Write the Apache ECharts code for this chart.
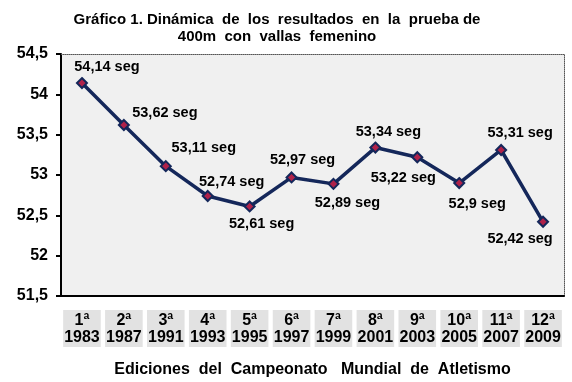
<!DOCTYPE html>
<html><head><meta charset="utf-8">
<script src="https://cdn.jsdelivr.net/npm/echarts@6/dist/echarts.min.js"></script>
<style>html,body{margin:0;padding:0;background:#fff}#c{width:572px;height:382px}</style>
</head><body><div id="c"></div>
<script>
const editions = ['1ª','2ª','3ª','4ª','5ª','6ª','7ª','8ª','9ª','10ª','11ª','12ª'];
const years = ['1983','1987','1991','1993','1995','1997','1999','2001','2003','2005','2007','2009'];
const times = [54.14, 53.62, 53.11, 52.74, 52.61, 52.97, 52.89, 53.34, 53.22, 52.90, 53.31, 52.42];
const timeLabels = ['54,14','53,62','53,11','52,74','52,61','52,97','52,89','53,34','53,22','52,9','53,31','52,42'];
const yTicks = [51.5, 52, 52.5, 53, 53.5, 54, 54.5];
const labelOffsets = [[25,-16],[41,-12],[38,-18],[24,-14],[12,18],[11,-17],[14,19],[13,-16],[-14,21],[18,21],[19,-17],[-23,17]];

const categories = editions.map((e,i)=>e+'\n'+years[i]);
const font = 'Liberation Sans, Arial, sans-serif';
const chart = echarts.init(document.getElementById('c'));
chart.setOption({
  animation:false,
  title:{text:'Gráfico 1. Dinámica  de  los  resultados  en  la  prueba de\n400m  con  vallas  femenino',
    left:272, textAlign:'center', top:6,
    textStyle:{fontFamily:font,fontWeight:'bold',fontSize:15,color:'#000',lineHeight:17}},
  grid:{left:61,right:8,top:54,bottom:86,show:true,backgroundColor:'#f0f0f0',borderWidth:0,
    containLabel:false,outerBoundsMode:'none'},
  xAxis:[{type:'category',data:categories,boundaryGap:true,
    name:'Ediciones  del  Campeonato   Mundial  de  Atletismo',nameLocation:'middle',nameGap:66,
    nameTextStyle:{fontFamily:font,fontWeight:'bold',fontSize:16,color:'#000'},
    axisLine:{lineStyle:{color:'#000',width:2}},axisTick:{show:false},
    axisLabel:{interval:0,margin:14,fontFamily:font,fontWeight:'bold',fontSize:16,color:'#000',
      lineHeight:17,backgroundColor:'#e2e2e2',padding:[2,1,1,1]}},
   {type:'category',data:categories,position:'top',axisLine:{lineStyle:{color:'#555',type:'dotted',width:1}},
    axisTick:{show:false},axisLabel:{show:false}}],
  yAxis:[{type:'value',min:51.5,max:54.5,interval:0.5,
    axisLine:{show:true,lineStyle:{color:'#000',width:2}},
    axisTick:{show:true,length:5,lineStyle:{color:'#000',width:2}},
    splitLine:{show:false},
    axisLabel:{margin:13,fontFamily:font,fontWeight:'bold',fontSize:16,color:'#000',
      formatter:v=>{const t=yTicks.find(x=>Math.abs(x-v)<1e-6);return String(t!==undefined?t:v).replace('.',',');}}},
   {type:'value',min:51.5,max:54.5,interval:0.5,position:'right',
    axisLine:{show:true,lineStyle:{color:'#555',type:'dotted',width:1}},
    axisTick:{show:false},axisLabel:{show:false},splitLine:{show:false}}],
  series:[{type:'line',data:times.map((v,i)=>({value:v,label:{offset:labelOffsets[i]}})),
    symbol:'diamond',symbolSize:10,
    lineStyle:{color:'#14275a',width:3.5},
    itemStyle:{color:'#b0224a',borderColor:'#14275a',borderWidth:2},
    label:{show:true,position:'inside',align:'center',verticalAlign:'middle',
      fontFamily:font,fontWeight:'bold',fontSize:14.5,color:'#000',
      formatter:p=>timeLabels[p.dataIndex]+' seg'}}]
});
</script></body></html>
